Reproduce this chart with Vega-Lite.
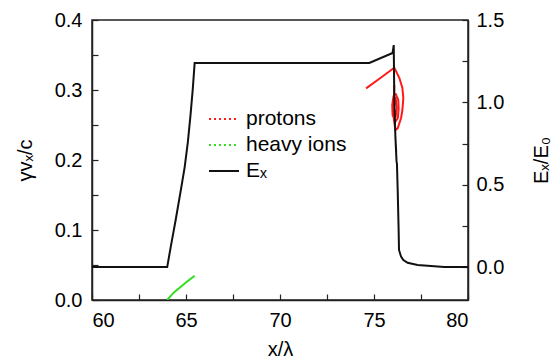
{
  "$schema": "https://vega.github.io/schema/vega-lite/v6.json",
  "width": 376,
  "height": 280,
  "autosize": "none",
  "padding": {"left": 92, "top": 20, "right": 83, "bottom": 62},
  "config": {
    "font": "Liberation Sans",
    "view": {"stroke": "#222", "strokeWidth": 1.5},
    "axis": {
      "grid": false,
      "domainColor": "#222",
      "domainWidth": 1.5,
      "tickColor": "#222",
      "tickWidth": 1.2,
      "tickSize": -6,
      "labelFontSize": 20,
      "labelColor": "#000",
      "titleFontSize": 20,
      "titleFontWeight": "normal",
      "titleColor": "#000",
      "labelFont": "Liberation Sans",
      "titleFont": "Liberation Sans"
    },
    "legend": {
      "labelFontSize": 21,
      "labelFont": "Liberation Sans",
      "labelColor": "#000"
    }
  },
  "layer": [
    {
      "data": {
        "values": [
          {"s": "protons", "g": "p1", "i": 1, "x": 74.58, "v": 0.3024},
          {"s": "protons", "g": "p1", "i": 2, "x": 75.34, "v": 0.3171},
          {"s": "protons", "g": "p1", "i": 3, "x": 76.08, "v": 0.3319},
          {"s": "protons", "g": "p1", "i": 4, "x": 76.35, "v": 0.3171},
          {"s": "protons", "g": "p1", "i": 5, "x": 76.51, "v": 0.3029},
          {"s": "protons", "g": "p1", "i": 6, "x": 76.56, "v": 0.2886},
          {"s": "protons", "g": "p1", "i": 7, "x": 76.51, "v": 0.2714},
          {"s": "protons", "g": "p1", "i": 8, "x": 76.44, "v": 0.26},
          {"s": "protons", "g": "p1", "i": 9, "x": 76.26, "v": 0.2453},
          {"s": "protons", "g": "p1", "i": 10, "x": 76.14, "v": 0.2429},
          {"s": "protons", "g": "p1", "i": 11, "x": 76.06, "v": 0.2571},
          {"s": "protons", "g": "p1", "i": 12, "x": 76.06, "v": 0.2857},
          {"s": "protons", "g": "p1", "i": 13, "x": 76.08, "v": 0.3071},
          {"s": "protons", "g": "p2", "i": 1, "x": 76.14, "v": 0.2953},
          {"s": "protons", "g": "p2", "i": 2, "x": 76.29, "v": 0.2857},
          {"s": "protons", "g": "p2", "i": 3, "x": 76.31, "v": 0.2743},
          {"s": "protons", "g": "p2", "i": 4, "x": 76.27, "v": 0.26},
          {"s": "protons", "g": "p2", "i": 5, "x": 76.14, "v": 0.2547},
          {"s": "protons", "g": "p2", "i": 6, "x": 75.99, "v": 0.2643},
          {"s": "protons", "g": "p2", "i": 7, "x": 75.97, "v": 0.2786},
          {"s": "protons", "g": "p2", "i": 8, "x": 76.04, "v": 0.2914},
          {"s": "protons", "g": "p2", "i": 9, "x": 76.14, "v": 0.2953},
          {"s": "protons", "g": "p3", "i": 1, "x": 76.14, "v": 0.29},
          {"s": "protons", "g": "p3", "i": 2, "x": 76.22, "v": 0.275},
          {"s": "protons", "g": "p3", "i": 3, "x": 76.14, "v": 0.26},
          {"s": "protons", "g": "p3", "i": 4, "x": 76.06, "v": 0.275},
          {"s": "protons", "g": "p3", "i": 5, "x": 76.14, "v": 0.29},
          {"s": "heavy ions", "g": "h", "i": 1, "x": 64.0, "v": 0.0},
          {"s": "heavy ions", "g": "h", "i": 2, "x": 64.34, "v": 0.0105},
          {"s": "heavy ions", "g": "h", "i": 3, "x": 64.71, "v": 0.0186},
          {"s": "heavy ions", "g": "h", "i": 4, "x": 65.09, "v": 0.027},
          {"s": "heavy ions", "g": "h", "i": 5, "x": 65.46, "v": 0.0347}
        ]
      },
      "mark": {"type": "line", "strokeWidth": 2, "clip": true},
      "encoding": {
        "x": {
          "field": "x", "type": "quantitative",
          "scale": {"domain": [60, 80], "nice": false, "zero": false},
          "axis": {
            "title": "x/λ",
            "values": [60, 62.5, 65, 67.5, 70, 72.5, 75, 77.5, 80],
            "labelExpr": "datum.value % 5 === 0 ? format(datum.value, 'd') : ''",
            "labelPadding": 16,
            "titlePadding": 9
          }
        },
        "y": {
          "field": "v", "type": "quantitative",
          "scale": {"domain": [0, 0.4], "nice": false},
          "axis": {
            "title": "γvₓ/c",
            "values": [0, 0.05, 0.1, 0.15, 0.2, 0.25, 0.3, 0.35, 0.4],
            "labelExpr": "abs(datum.value * 10 - round(datum.value * 10)) < 0.001 ? format(datum.value, '.1f') : ''",
            "labelPadding": 16,
            "titlePadding": 19
          }
        },
        "color": {
          "field": "s", "type": "nominal",
          "scale": {"domain": ["protons", "heavy ions", "Eₓ"], "range": ["#ff1a1a", "#33dd22", "#111111"]},
          "legend": {
            "title": null,
            "orient": "none",
            "legendX": 116,
            "legendY": 83,
            "symbolType": "stroke",
            "symbolSize": 900,
            "symbolStrokeWidth": 2,
            "labelOffset": 6,
            "rowPadding": -2,
            "encode": {
              "symbols": {
                "update": {
                  "strokeDash": {"signal": "datum.value == 'Eₓ' ? [1, 0] : [2, 3]"}
                }
              }
            }
          }
        },
        "detail": {"field": "g"},
        "order": {"field": "i", "type": "quantitative"}
      }
    },
    {
      "data": {
        "values": [
          {"s": "Eₓ", "i": 1, "x": 60, "E": 0},
          {"s": "Eₓ", "i": 2, "x": 64.0, "E": 0},
          {"s": "Eₓ", "i": 3, "x": 64.2, "E": 0.13},
          {"s": "Eₓ", "i": 4, "x": 64.45, "E": 0.286},
          {"s": "Eₓ", "i": 5, "x": 64.7, "E": 0.45},
          {"s": "Eₓ", "i": 6, "x": 64.93, "E": 0.607},
          {"s": "Eₓ", "i": 7, "x": 65.1, "E": 0.76},
          {"s": "Eₓ", "i": 8, "x": 65.24, "E": 0.923},
          {"s": "Eₓ", "i": 9, "x": 65.36, "E": 1.08},
          {"s": "Eₓ", "i": 10, "x": 65.46, "E": 1.239},
          {"s": "Eₓ", "i": 11, "x": 74.75, "E": 1.239},
          {"s": "Eₓ", "i": 12, "x": 75.99, "E": 1.30},
          {"s": "Eₓ", "i": 13, "x": 76.05, "E": 1.348},
          {"s": "Eₓ", "i": 14, "x": 76.08, "E": 1.014},
          {"s": "Eₓ", "i": 15, "x": 76.14, "E": 0.784},
          {"s": "Eₓ", "i": 16, "x": 76.18, "E": 0.70},
          {"s": "Eₓ", "i": 17, "x": 76.15, "E": 0.76},
          {"s": "Eₓ", "i": 18, "x": 76.2, "E": 0.64},
          {"s": "Eₓ", "i": 19, "x": 76.22, "E": 0.63},
          {"s": "Eₓ", "i": 20, "x": 76.26, "E": 0.468},
          {"s": "Eₓ", "i": 21, "x": 76.31, "E": 0.225},
          {"s": "Eₓ", "i": 22, "x": 76.33, "E": 0.104},
          {"s": "Eₓ", "i": 23, "x": 76.44, "E": 0.063},
          {"s": "Eₓ", "i": 24, "x": 76.56, "E": 0.043},
          {"s": "Eₓ", "i": 25, "x": 76.79, "E": 0.026},
          {"s": "Eₓ", "i": 26, "x": 77.32, "E": 0.012},
          {"s": "Eₓ", "i": 27, "x": 78.74, "E": 0.0},
          {"s": "Eₓ", "i": 28, "x": 80, "E": 0.0}
        ]
      },
      "mark": {"type": "line", "strokeWidth": 2, "clip": true},
      "encoding": {
        "x": {"field": "x", "type": "quantitative"},
        "y": {
          "field": "E", "type": "quantitative",
          "scale": {"domain": [-0.2, 1.5], "nice": false, "zero": false},
          "axis": {
            "orient": "right",
            "title": "Eₓ/E₀",
            "titleAngle": 270,
            "values": [0, 0.25, 0.5, 0.75, 1.0, 1.25, 1.5],
            "labelExpr": "abs(datum.value * 2 - round(datum.value * 2)) < 0.001 ? format(datum.value, '.1f') : ''",
            "labelPadding": 14,
            "titlePadding": 48
          }
        },
        "color": {"field": "s", "type": "nominal"},
        "order": {"field": "i", "type": "quantitative"}
      }
    }
  ],
  "resolve": {"scale": {"y": "independent"}}
}
